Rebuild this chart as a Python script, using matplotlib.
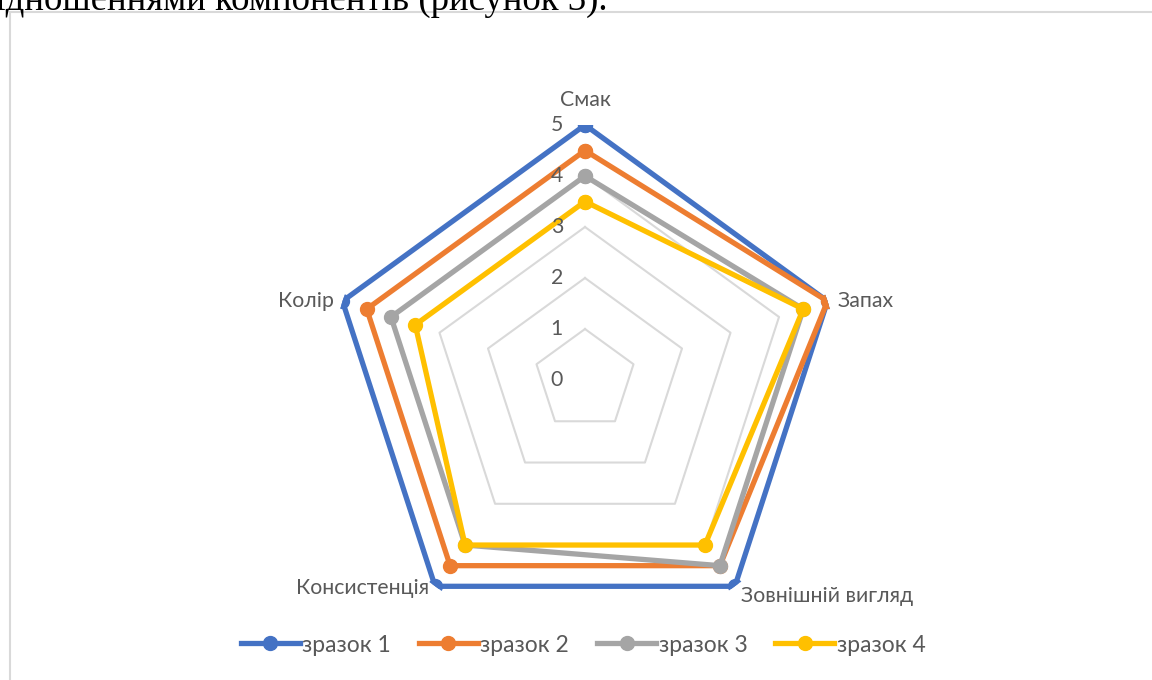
import numpy as np
import matplotlib
matplotlib.use("Agg")
import matplotlib.pyplot as plt
from matplotlib.transforms import offset_copy
from matplotlib.lines import Line2D
from matplotlib.patches import Rectangle

categories = ["Смак", "Запах", "Зовнішній вигляд", "Консистенція", "Колір"]
series_names = ["зразок 1", "зразок 2", "зразок 3", "зразок 4"]
s1 = [5, 5, 5, 5, 5]
s2 = [4.5, 5, 4.5, 4.5, 4.5]
s3 = [4, 4.5, 4.5, 4, 4]
s4 = [3.5, 4.5, 4, 4, 3.5]
series = [s1, s2, s3, s4]
r_ticks = [0, 1, 2, 3, 4, 5]
colors = ["#4472C4", "#ED7D31", "#A5A5A5", "#FFC000"]

W, H = 1152, 680
fig = plt.figure(figsize=(W / 100, H / 100), dpi=100)
fig.patch.set_facecolor("white")

# Document text above the chart (cut off at the top edge)
fig.text(607 / W, 1 - 10 / H, "відношеннями компонентів (рисунок 3).",
         ha="right", va="baseline", fontsize=26.5, family="Liberation Serif",
         color="black")
# Chart frame
fig.patches.append(Rectangle((10 / W, -0.05), 1.2, 1 - 12 / H + 0.05,
                             transform=fig.transFigure, fill=False,
                             edgecolor="#D9D9D9", linewidth=1.5))

cx, cy, R = 585, 380, 255
ax = fig.add_axes([(cx - R) / W, (H - cy - R) / H, 2 * R / W, 2 * R / H],
                  projection="polar")
ax.set_theta_offset(np.pi / 2)
ax.set_theta_direction(-1)
ax.set_ylim(0, 5)
ax.grid(False)
ax.spines["polar"].set_visible(False)
ax.set_xticks([])
ax.set_yticks([])
ax.patch.set_alpha(0)

n = len(categories)
angles = np.linspace(0, 2 * np.pi, n, endpoint=False)
closed = np.concatenate([angles, angles[:1]])

# grid pentagons
for r in r_ticks[1:]:
    ax.plot(closed, [r] * (n + 1), color="#D9D9D9", lw=1.5, zorder=1)

for vals, col, name in zip(series, colors, series_names):
    v = list(vals) + [vals[0]]
    ax.plot(closed, v, color=col, lw=3.8, marker="o", ms=10, zorder=3,
            label=name, solid_joinstyle="miter")

label_color = "#595959"
fs = 15.3
lfont = dict(family="Lato", color=label_color)
for r in r_ticks:
    tr = offset_copy(ax.transData, fig=fig, x=-22, y=0, units="dots")
    ax.text(0, r, str(r), transform=tr, ha="right", va="center",
            fontsize=fs, **lfont)

offsets = [(0, 25, "center", "center"), (10, 0, "left", "center"),
           (6, -10, "left", "center"), (-6, -2, "right", "center"),
           (-9, 0, "right", "center")]
for a, cat, (dx, dy, ha, va) in zip(angles, categories, offsets):
    tr = offset_copy(ax.transData, fig=fig, x=dx, y=dy, units="dots")
    ax.text(a, 5, cat, transform=tr, ha=ha, va=va, fontsize=fs, **lfont)

handles = [Line2D([], [], color=c, lw=3.8, marker="o", ms=10) for c in colors]
leg = fig.legend(handles, series_names, loc="center",
                 bbox_to_anchor=(583 / W, 1 - 645 / H), ncol=4, frameon=False,
                 handlelength=2.6, handletextpad=0.1, columnspacing=1.2,
                 prop=dict(family="Lato", size=16.5), markerscale=1)
for t in leg.get_texts():
    t.set_color(label_color)

fig.savefig("out.png", dpi=100, facecolor="white")
